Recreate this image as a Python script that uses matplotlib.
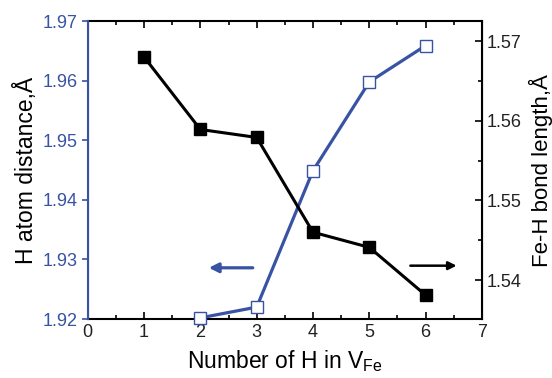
import matplotlib
matplotlib.use("Agg")
import matplotlib.pyplot as plt
from matplotlib.ticker import MultipleLocator

plt.rcParams["font.family"] = ["Liberation Sans", "DejaVu Sans"]

BLUE = "#3953a4"

n_h = [1, 2, 3, 4, 5, 6]
fe_h_bond = [1.5680, 1.5589, 1.5579, 1.5460, 1.5441, 1.5381]
n_h_dist = [2, 3, 4, 5, 6]
h_distance = [1.9202, 1.9220, 1.9449, 1.9598, 1.9659]

fig = plt.figure(figsize=(5.52, 3.78), dpi=100)
ax = fig.add_axes([0.159, 0.156, 0.714, 0.788])
ax2 = ax.twinx()

ax.plot(n_h_dist, h_distance, color=BLUE, linewidth=2.3, marker="s",
        markersize=8, markerfacecolor="white", markeredgecolor=BLUE,
        markeredgewidth=1.0, zorder=3, clip_on=False)
ax2.plot(n_h, fe_h_bond, color="black", linewidth=2.2, marker="s",
         markersize=8, zorder=3)

ax.set_xlim(0, 7)
ax.set_ylim(1.92, 1.97)
ax2.set_ylim(1.5351, 1.5725)

ax.xaxis.set_major_locator(MultipleLocator(1))
ax.xaxis.set_minor_locator(MultipleLocator(0.5))
ax.yaxis.set_major_locator(MultipleLocator(0.01))
ax.yaxis.set_major_formatter(plt.FormatStrFormatter("%.2f"))
ax2.yaxis.set_major_locator(MultipleLocator(0.01))
ax2.yaxis.set_minor_locator(MultipleLocator(0.005))
ax2.yaxis.set_major_formatter(plt.FormatStrFormatter("%.2f"))

ax.tick_params(axis="x", which="both", direction="in", top=True,
               labelsize=13, width=1.2, labelcolor="#222222")
ax.tick_params(axis="x", which="major", length=5)
ax.tick_params(axis="x", which="minor", length=3)
ax.tick_params(axis="y", which="major", direction="out", colors=BLUE,
               labelsize=13, length=4, width=1.2)
ax2.tick_params(axis="y", which="major", direction="in", labelsize=13,
                length=5, width=1.2, labelcolor="#222222")
ax2.tick_params(axis="y", which="minor", direction="in", length=3, width=1.2)

for side in ["top", "bottom"]:
    ax.spines[side].set_linewidth(1.5)
ax2.spines["right"].set_linewidth(1.5)
ax2.spines["left"].set_color(BLUE)
ax2.spines["left"].set_linewidth(1.5)
for side in ["top", "bottom"]:
    ax2.spines[side].set_visible(False)

ax.set_xlabel("Number of H in V$_{\\mathregular{Fe}}$", fontsize=16.5, labelpad=5)
ax.set_ylabel("H atom distance,Å", fontsize=16.5, labelpad=3)
ax2.set_ylabel("Fe-H bond length,Å", fontsize=16, labelpad=5)

# direction arrows
ax.annotate("", xy=(2.1, 1.9286), xytext=(2.98, 1.9286),
            arrowprops=dict(arrowstyle="-|>", color=BLUE, lw=2.3,
                            mutation_scale=14))
ax2.annotate("", xy=(6.6, 1.5418), xytext=(5.68, 1.5418),
             arrowprops=dict(arrowstyle="-|>", color="black", lw=1.8,
                             mutation_scale=12))

fig.savefig("out.png", dpi=100)
